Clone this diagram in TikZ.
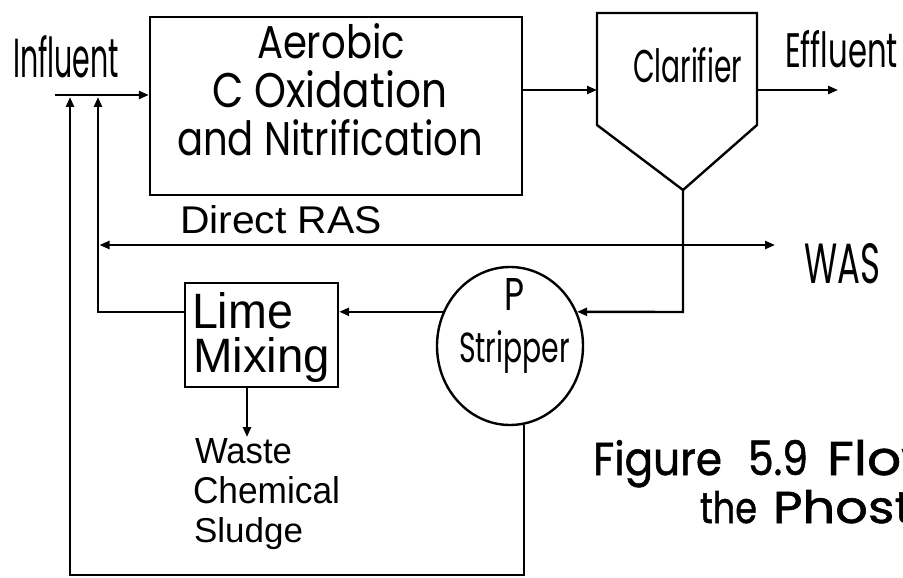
\documentclass[tikz,border=0pt]{standalone}
\usepackage{fontspec}
\usepackage{graphicx}
\setmainfont{Poppins}
\newfontfamily\helv{Liberation Sans}
\newfontfamily\capfont[FakeBold=1.2]{Poppins}
\usetikzlibrary{arrows.meta,shapes.geometric}
\newcommand{\fitto}[3]{\resizebox{#1pt}{#2pt}{#3}}
\begin{document}
\begin{tikzpicture}[x=1pt,y=-1pt,
  line width=2.4pt,
  tip/.tip={Triangle[length=10pt,width=8pt]},
  arr/.style={-tip},
  txt/.style={inner sep=0pt,outer sep=0pt,anchor=base west},
  box/.style={draw,line width=2.4pt,inner sep=0pt}]
\useasboundingbox (0,0) rectangle (903,578);
\fill[white] (0,0) rectangle (903,578);
\clip (0,0) rectangle (903,578);
% shapes
\node[box, minimum width=372pt, minimum height=178pt] (aer) at (336,106) {};
\coordinate (clTL) at (597,13);
\coordinate (clTR) at (757,13);
\coordinate (clBR) at (757,125);
\coordinate (clB) at (683,190);
\coordinate (clBL) at (597,125);
\draw (clTL) -- (clTR) -- (clBR) -- (clB) -- (clBL) -- cycle;
\coordinate (clIn) at (597,90);
\coordinate (clOut) at (757,90);
\node[box, minimum width=153pt, minimum height=104pt] (lime) at (261.5,335) {};
\node[box, ellipse, minimum width=146pt, minimum height=158pt] (strip) at (510,346) {};
% texts
\node[txt] (tInf) at (13,78) {\fitto{106}{42}{Influent}};
\node[txt] (tEff) at (785,68) {\fitto{113}{37}{Effluent}};
\node[txt] (tCla) at (633,82) {\fitto{109}{35}{Clarifier}};
\node[txt] (tWAS) at (804,283) {\fitto{76}{40}{WAS}};
\node[txt] (tRAS) at (180,233) {\fitto{202}{28}{\helv Direct RAS}};
\node[txt] (tA1) at (257,59) {\fitto{148}{35}{Aerobic}};
\node[txt] (tA2) at (212,107) {\fitto{235}{37}{C Oxidation}};
\node[txt] (tA3) at (177,155) {\fitto{306}{36}{and Nitrification}};
\node[txt] (tL1) at (192,328) {\fitto{101}{36}{\helv Lime}};
\node[txt] (tL2) at (193,372) {\fitto{137}{35}{\helv Mixing}};
\node[txt] (tW1) at (195,463) {\fitto{97}{25}{\helv Waste}};
\node[txt] (tW2) at (193,503) {\fitto{147}{27}{\helv Chemical}};
\node[txt] (tW3) at (194,542) {\fitto{109}{25}{\helv Sludge}};
\node[txt] (tP) at (504,310) {\fitto{20}{32}{P}};
\node[txt] (tS) at (459,362) {\fitto{111}{32}{Stripper}};
\node[txt] (cap1) at (593,475) {\fitto{129}{35}{\capfont Figure}};
\node[txt] (cap2) at (748,475) {\fitto{60}{35}{\capfont 5.9}};
\node[txt] (cap3) at (827,475) {\fitto{118}{35}{\capfont Flow}};
\node[txt] (cap4) at (700,523) {\fitto{57}{32}{\capfont the}};
\node[txt] (cap5) at (773,523) {\fitto{140}{33}{\capfont Phost}};
% connectors
\coordinate (inS) at (55,95);
\draw[arr] (inS) -- (inS -| aer.west);
\draw[arr] (clIn -| aer.east) -- (clIn);
\coordinate (effE) at (838,90);
\draw[arr] (clOut) -- (effE);
\coordinate (k1) at (683,312);
\draw[arr] (clB) -- (k1) -- (strip.27);
\coordinate (rasL) at (99.5,245);
\coordinate (wasE) at (775,245);
\draw[tip-tip] (rasL) -- (wasE);
\draw[arr] (strip.153) -- (strip.153 -| lime.east);
\coordinate (j1) at (70,97);
\coordinate (j2) at (98,97);
\coordinate (k2) at (98,312);
\draw[arr] (k2 -| lime.west) -- (k2) -- (j2);
\coordinate (k3) at (70,575);
\draw[arr] (strip.-80) -- (strip.-80 |- k3) -- (k3) -- (j1);
\coordinate (wasteT) at (247,437);
\draw[arr] (wasteT |- lime.south) -- (wasteT);
\end{tikzpicture}
\end{document}
